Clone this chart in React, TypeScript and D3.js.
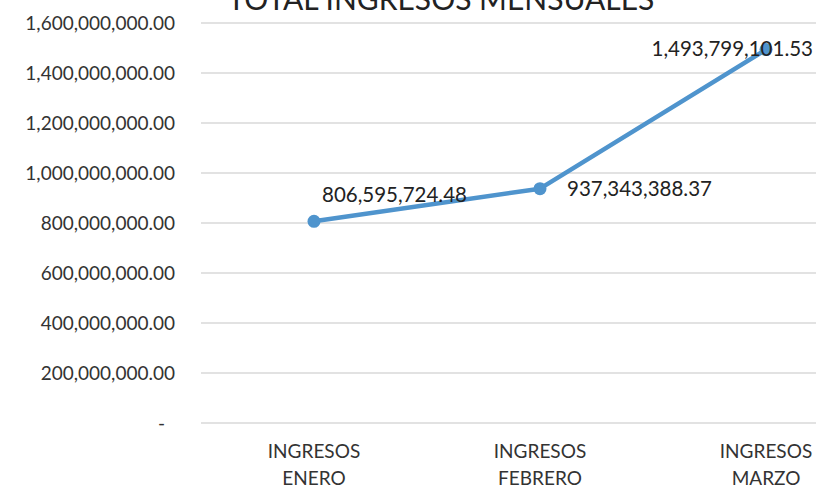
import React from "react";
import * as d3 from "d3";

const categories: string[][] = [
  ["INGRESOS", "ENERO"],
  ["INGRESOS", "FEBRERO"],
  ["INGRESOS", "MARZO"],
];
const values: number[] = [806595724.48, 937343388.37, 1493799101.53];
const yTicks: number[] = [0, 200000000, 400000000, 600000000, 800000000, 1000000000, 1200000000, 1400000000, 1600000000];
const title = "TOTAL INGRESOS MENSUALES";

// label placement offsets relative to each point (style only)
const labelOffsets = [
  { dx: 8, dy: -19, anchor: "start" },
  { dx: 27, dy: 7, anchor: "start" },
  { dx: 47, dy: 6, anchor: "end" },
];

const W = 816;
const H = 488;
const FONT = "Lato, 'Open Sans', sans-serif";

export default function App() {
  const x = d3
    .scaleBand<number>()
    .domain(categories.map((_, i) => i))
    .range([201, 879])
    .padding(0);
  const y = d3.scaleLinear().domain([0, 1600000000]).range([423, 23]);
  const fmt = d3.format(",.2f");
  const cx = (i: number) => (x(i) as number) + x.bandwidth() / 2;

  const line = d3
    .line<number>()
    .x((_, i) => cx(i))
    .y((d) => y(d));

  return (
    <svg
      width={W}
      height={H}
      style={{ position: "absolute", left: 0, top: 0, background: "#fff" }}
      fontFamily={FONT}
    >
      {/* gridlines */}
      {yTicks.map((t) => (
        <line
          key={"g" + t}
          x1={201}
          x2={879}
          y1={y(t)}
          y2={y(t)}
          stroke="#d9d9d9"
          strokeWidth={1.3}
        />
      ))}
      {/* y labels */}
      {yTicks.map((t) => (
        <text
          key={"l" + t}
          x={t === 0 ? 165 : 175}
          y={y(t)}
          dy="0.35em"
          textAnchor="end"
          fontSize={19}
          fill="#333"
        >
          {t === 0 ? "-" : fmt(t)}
        </text>
      ))}
      {/* title */}
      <text x={441} y={10} textAnchor="middle" fontSize={30} fill="#222">
        {title}
      </text>
      {/* x labels */}
      {categories.map((c, i) => (
        <text key={"x" + i} x={cx(i)} textAnchor="middle" fontSize={19} fill="#333">
          {c.map((s, j) => (
            <tspan key={j} x={cx(i)} y={458 + j * 27}>
              {s}
            </tspan>
          ))}
        </text>
      ))}
      {/* line */}
      <path d={line(values) || ""} fill="none" stroke="#4f94cd" strokeWidth={4.5} strokeLinejoin="round" />
      {values.map((v, i) => (
        <circle key={"p" + i} cx={cx(i)} cy={y(v)} r={6.5} fill="#4f94cd" />
      ))}
      {/* data labels */}
      {values.map((v, i) => (
        <text
          key={"d" + i}
          x={cx(i) + labelOffsets[i].dx}
          y={y(v) + labelOffsets[i].dy}
          textAnchor={labelOffsets[i].anchor as any}
          fontSize={20.5}
          fill="#222"
        >
          {fmt(v)}
        </text>
      ))}
    </svg>
  );
}
